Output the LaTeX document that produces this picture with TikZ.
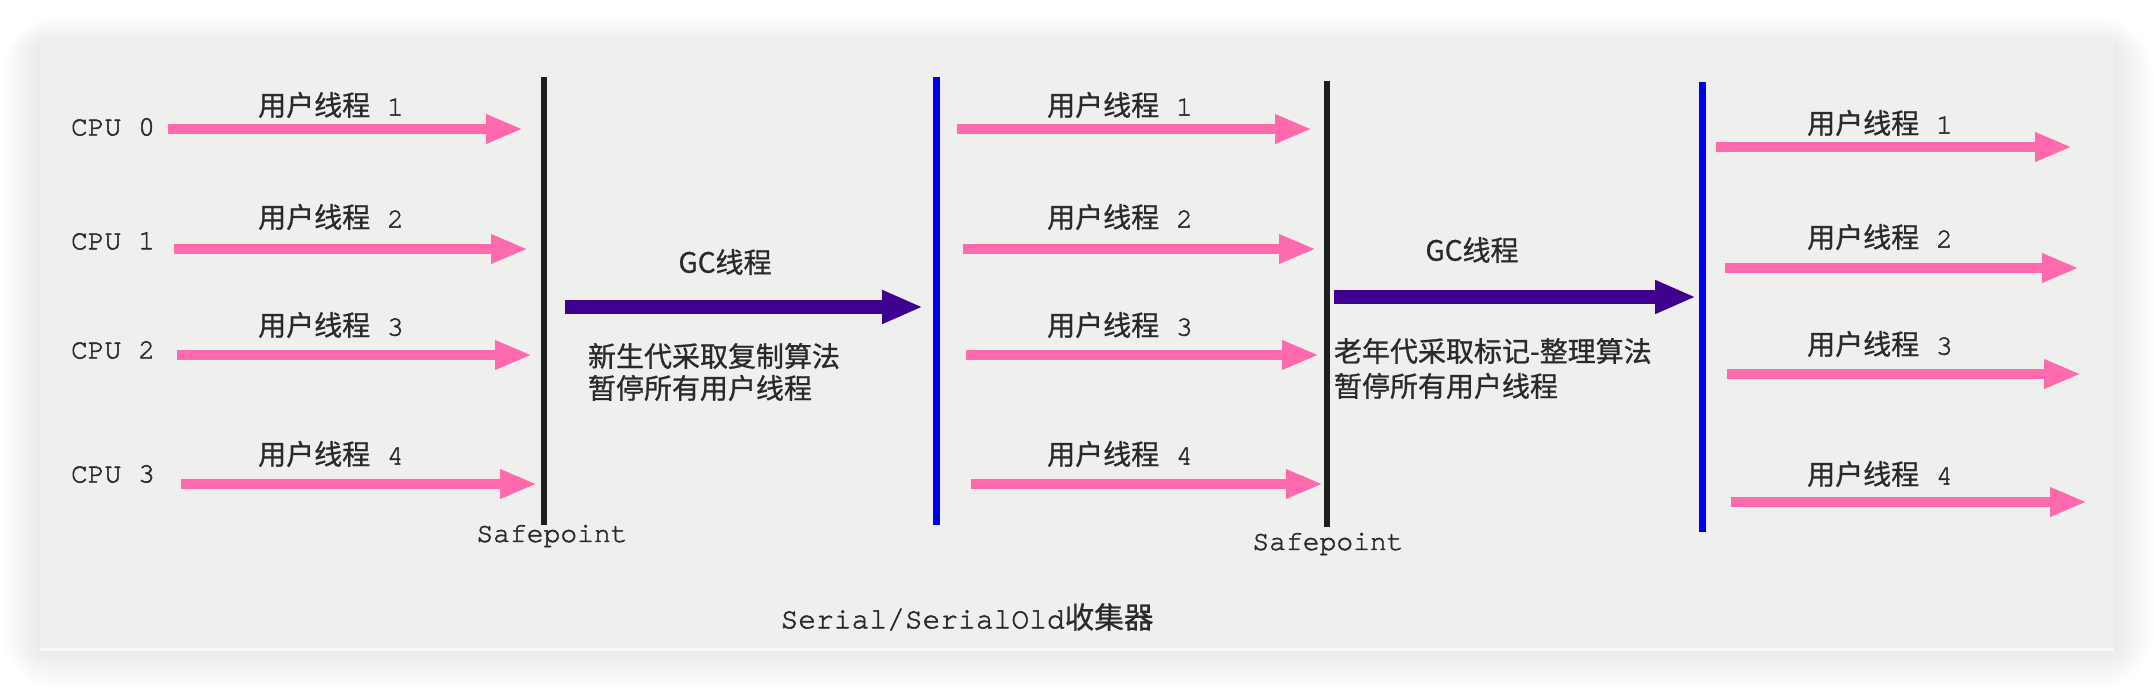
\documentclass[tikz,border=0pt]{standalone}
\usepackage{fontspec}
\setmainfont{texgyrecursor-regular.otf}[FakeBold=1.8]
\newfontfamily\cjk{Noto Sans CJK SC}[FakeBold=0.9]
\usetikzlibrary{arrows.meta}
\definecolor{panelgray}{HTML}{EFEFEE}
\definecolor{pinkarr}{HTML}{FF69AE}
\definecolor{gcpurple}{HTML}{3F0090}
\definecolor{barblue}{HTML}{0000F0}
\definecolor{barblack}{HTML}{1E1E1E}
\definecolor{txtgray}{HTML}{2A2A2A}
\begin{document}
\begin{tikzpicture}[x=0.5pt,y=-0.5pt,
  every node/.style={inner sep=0pt, outer sep=0pt, text=txtgray, font=\fontsize{14}{16}\selectfont},
  userarrow/.style={draw=pinkarr, line width=4.6pt, -{Triangle[length=18.5pt,width=13.5pt]}},
  gcarrow/.style={draw=gcpurple, line width=7pt, -{Triangle[length=20.5pt,width=15.5pt]}},
  blackbar/.style={draw=barblack, line width=3pt},
  bluebar/.style={draw=barblue, line width=3.5pt},
  cpulabel/.style={anchor=west},
  threadlabel/.style={},
  txtline/.style={anchor=west}
]
% canvas
\useasboundingbox (0,0) rectangle (2154,688);
\fill[white] (0,0) rectangle (2154,688);
% soft shadow
\foreach \i in {1,...,20} {
  \fill[black,opacity=0.005,rounded corners=\i*1.5pt] (40-2*\i,46-1.5*\i) rectangle (2114+2*\i,650+2*\i);
}
\fill[panelgray] (40,40) rectangle (2114,648);
\fill[white!70!panelgray] (40,648) rectangle (2114,651);

% CPU labels
\node[cpulabel] (cpu0) at (71,127) {CPU 0};
\node[cpulabel] (cpu1) at (71,241) {CPU 1};
\node[cpulabel] (cpu2) at (71,350) {CPU 2};
\node[cpulabel] (cpu3) at (71,474) {CPU 3};

% bars
\coordinate (spAt) at (544,77);  \coordinate (spAb) at (544,525);
\coordinate (blAt) at (936,77);  \coordinate (blAb) at (936,525);
\coordinate (spBt) at (1327,81); \coordinate (spBb) at (1327,527);
\coordinate (blBt) at (1702,82); \coordinate (blBb) at (1702,532);
\draw[blackbar] (spAt) -- (spAb);
\draw[bluebar]  (blAt) -- (blAb);
\draw[blackbar] (spBt) -- (spBb);
\draw[bluebar]  (blBt) -- (blBb);

% section 1 thread arrows
\coordinate (a1s) at (168,129); \coordinate (a1e) at (523,129);
\coordinate (a2s) at (174,249); \coordinate (a2e) at (528,249);
\coordinate (a3s) at (177,355); \coordinate (a3e) at (532,355);
\coordinate (a4s) at (181,484); \coordinate (a4e) at (537,484);
\draw[userarrow] (a1s) -- (a1e);
\draw[userarrow] (a2s) -- (a2e);
\draw[userarrow] (a3s) -- (a3e);
\draw[userarrow] (a4s) -- (a4e);
\node[threadlabel] (l1a) at (331,105) {{\cjk 用户线程} 1};
\node[threadlabel] (l2a) at (331,217) {{\cjk 用户线程} 2};
\node[threadlabel] (l3a) at (331,325) {{\cjk 用户线程} 3};
\node[threadlabel] (l4a) at (331,454) {{\cjk 用户线程} 4};

% section 2 thread arrows
\coordinate (b1s) at (957,129); \coordinate (b1e) at (1312,129);
\coordinate (b2s) at (963,249); \coordinate (b2e) at (1316,249);
\coordinate (b3s) at (966,355); \coordinate (b3e) at (1319,355);
\coordinate (b4s) at (971,484); \coordinate (b4e) at (1323,484);
\draw[userarrow] (b1s) -- (b1e);
\draw[userarrow] (b2s) -- (b2e);
\draw[userarrow] (b3s) -- (b3e);
\draw[userarrow] (b4s) -- (b4e);
\node[threadlabel] (l1b) at (1120,105) {{\cjk 用户线程} 1};
\node[threadlabel] (l2b) at (1120,217) {{\cjk 用户线程} 2};
\node[threadlabel] (l3b) at (1120,325) {{\cjk 用户线程} 3};
\node[threadlabel] (l4b) at (1120,454) {{\cjk 用户线程} 4};

% section 3 thread arrows
\coordinate (c1s) at (1716,147); \coordinate (c1e) at (2072,147);
\coordinate (c2s) at (1725,268); \coordinate (c2e) at (2079,268);
\coordinate (c3s) at (1727,374); \coordinate (c3e) at (2081,374);
\coordinate (c4s) at (1731,502); \coordinate (c4e) at (2087,502);
\draw[userarrow] (c1s) -- (c1e);
\draw[userarrow] (c2s) -- (c2e);
\draw[userarrow] (c3s) -- (c3e);
\draw[userarrow] (c4s) -- (c4e);
\node[threadlabel] (l1c) at (1880,123) {{\cjk 用户线程} 1};
\node[threadlabel] (l2c) at (1880,237) {{\cjk 用户线程} 2};
\node[threadlabel] (l3c) at (1880,344) {{\cjk 用户线程} 3};
\node[threadlabel] (l4c) at (1880,474) {{\cjk 用户线程} 4};

% GC arrows
\coordinate (g1s) at (565,307); \coordinate (g1e) at (923,307);
\coordinate (g2s) at (1334,297); \coordinate (g2e) at (1696,297);
\draw[gcarrow] (g1s) -- (g1e);
\draw[gcarrow] (g2s) -- (g2e);
\node (gc1) at (725,262) {\cjk GC线程};
\node (gc2) at (1472,250) {\cjk GC线程};
\node[txtline] (t1a) at (588,356) {\cjk 新生代采取复制算法};
\node[txtline] (t1b) at (588,388) {\cjk 暂停所有用户线程};
\node[txtline] (t2a) at (1334,351) {\cjk 老年代采取标记-整理算法};
\node[txtline] (t2b) at (1334,386) {\cjk 暂停所有用户线程};

% Safepoints and caption
\node (spA) at (552,536) {Safepoint};
\node (spB) at (1328,544) {Safepoint};
\node[font=\fontsize{14.8}{17}\selectfont] (cap) at (967,617) {Serial/SerialOld{\cjk 收集器}};
\end{tikzpicture}
\end{document}
